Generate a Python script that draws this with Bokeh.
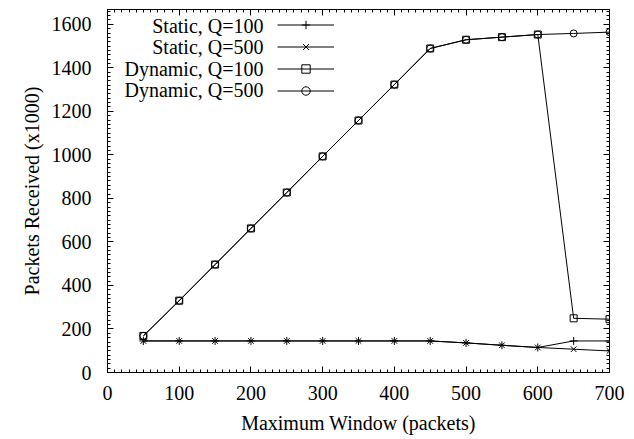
from bokeh.plotting import figure
from bokeh.models import (Range1d, SingleIntervalTicker, LinearAxis, Legend, LegendItem, Label,
                          CustomJSTickFormatter)
from bokeh.embed import file_html
from bokeh.resources import INLINE

# ---- data ----
window = [50, 100, 150, 200, 250, 300, 350, 400, 450, 500, 550, 600, 650, 700]
static_q100 = [145, 145, 145, 145, 145, 145, 145, 145, 145, 136, 125, 115, 145, 145]
static_q500 = [145, 145, 145, 145, 145, 145, 145, 145, 145, 136, 125, 115, 107, 99]
dynamic_q100 = [168, 330, 496, 662, 827, 993, 1158, 1323, 1489, 1529, 1541, 1553, 249, 245]
dynamic_q500 = [168, 330, 496, 662, 827, 993, 1158, 1323, 1489, 1529, 1541, 1553, 1558, 1564]
series_names = ["Static, Q=100", "Static, Q=500", "Dynamic, Q=100", "Dynamic, Q=500"]
x_label = "Maximum Window (packets)"
y_label = "Packets Received (x1000)"

FONT = "Liberation Serif"

p = figure(width=634, height=439, output_backend="svg", toolbar_location=None,
           x_range=Range1d(0, 700), y_range=Range1d(0, 1668),
           min_border_left=107, min_border_right=25, min_border_top=9, min_border_bottom=67)
p.grid.visible = False
p.outline_line_color = "black"
p.outline_line_width = 1
p.outline_line_alpha = 1
p.background_fill_color = "white"
p.border_fill_color = "white"

p.xaxis.ticker = SingleIntervalTicker(interval=100, num_minor_ticks=10)
p.yaxis.ticker = SingleIntervalTicker(interval=200, num_minor_ticks=10)

def style_axis(ax, labels=True):
    ax.axis_line_color = "black"
    ax.major_tick_line_color = "black"
    ax.minor_tick_line_color = "black"
    ax.major_tick_in = 6
    ax.major_tick_out = 0
    ax.minor_tick_in = 3
    ax.minor_tick_out = 0
    if labels:
        ax.major_label_text_font = FONT
        ax.major_label_text_font_size = "20px"
        ax.major_label_text_color = "black"
        ax.axis_label_text_font = FONT
        ax.axis_label_text_font_size = "20px"
        ax.axis_label_text_font_style = "normal"
        ax.axis_label_text_color = "black"
    else:
        ax.formatter = CustomJSTickFormatter(code="return ''")
        ax.major_label_standoff = 0

style_axis(p.xaxis[0])
style_axis(p.yaxis[0])
p.xaxis.axis_label = x_label
p.yaxis.axis_label = y_label
p.xaxis.major_label_standoff = 13
p.xaxis.axis_label_standoff = 9
p.yaxis.major_label_standoff = 16
p.yaxis.axis_label_standoff = 6

top_ax = LinearAxis(ticker=SingleIntervalTicker(interval=100, num_minor_ticks=10))
right_ax = LinearAxis(ticker=SingleIntervalTicker(interval=200, num_minor_ticks=10))
style_axis(top_ax, labels=False)
style_axis(right_ax, labels=False)
p.add_layout(top_ax, "above")
p.add_layout(right_ax, "right")

markers = ["cross", "x", "square", "circle"]
data = [static_q100, static_q500, dynamic_q100, dynamic_q500]
items = []
for name, ys, mk in zip(series_names, data, markers):
    ln = p.line(window, ys, line_color="black", line_width=1)
    sc = p.scatter(window, ys, marker=mk, size=8 if mk in ("cross", "x") else 7,
                   line_color="black", fill_color=None, line_width=1)
    items.append(LegendItem(label="", renderers=[ln, sc]))

legend = Legend(items=items, location=(170, 271), orientation="vertical",
                glyph_width=57, glyph_height=21, label_height=21, label_width=0,
                label_text_font_size="10px", label_standoff=0,
                spacing=1, padding=0, margin=0,
                border_line_color=None, background_fill_alpha=0)
p.add_layout(legend, "center")

# legend labels (right-aligned text left of the sample line, gnuplot style)
row_y = [346.6, 325.1, 303.6, 282.1]
for name, ry in zip(series_names, row_y):
    p.add_layout(Label(x=156, y=ry, x_units="screen", y_units="screen", text=name,
                       text_align="right", text_baseline="middle",
                       text_font=FONT, text_font_size="20px", text_color="black"))

open("out.html", "w").write(file_html(p, INLINE))
